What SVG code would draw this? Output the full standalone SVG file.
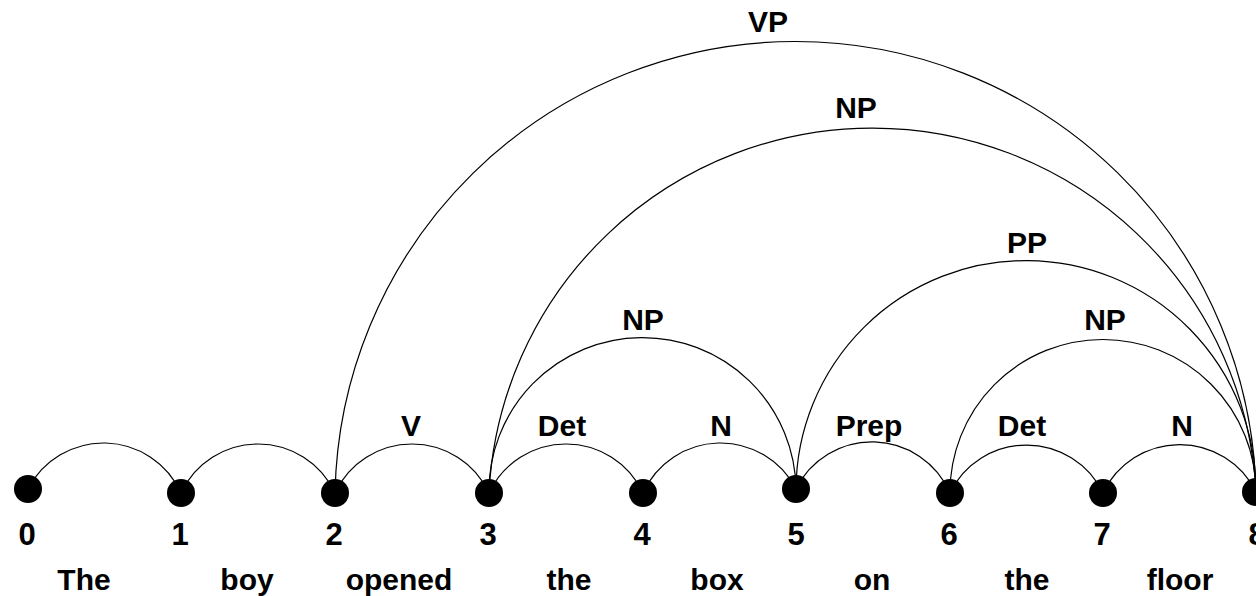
<svg xmlns="http://www.w3.org/2000/svg" width="1256" height="596" viewBox="0 0 1256 596">
  <style>
    .arc { fill: none; stroke: #000; stroke-width: 1.2; }
    .node { fill: #000; }
    text { font-family: "Liberation Sans", Arial, sans-serif; font-weight: bold; fill: #000; text-anchor: middle; }
    .lbl { font-size: 30px; }
    .num { font-size: 31px; }
    .word { font-size: 30px; }
  </style>
  <rect width="1256" height="596" fill="#fff"/>

  <!-- chart edges: arcs between vertices -->
  <g id="edges">
    <path class="arc" d="M28 489 A85 85 0 0 1 181 493"/>
    <path class="arc" d="M181 493 A85 85 0 0 1 335 493"/>
    <path class="arc" d="M335 493 A85 85 0 0 1 489 493"/>
    <path class="arc" d="M489 493 A85 85 0 0 1 643 493"/>
    <path class="arc" d="M643 493 A85 85 0 0 1 796 489"/>
    <path class="arc" d="M796 489 A85 85 0 0 1 950 493"/>
    <path class="arc" d="M950 493 A85 85 0 0 1 1103 493"/>
    <path class="arc" d="M1103 493 A85 85 0 0 1 1256 492"/>
    <path class="arc" d="M489 493 A153.5 153.5 0 0 1 796 489"/>
    <path class="arc" d="M950 493 A153 153 0 0 1 1256 492"/>
    <path class="arc" d="M796 489 A230 230 0 0 1 1256 492"/>
    <path class="arc" d="M489 493 A384 384 0 0 1 1256 492"/>
    <path class="arc" d="M335 493 A460.6 460.6 0 0 1 1256 492"/>
    <text class="lbl" x="411" y="436">V</text>
    <text class="lbl" x="562" y="436">Det</text>
    <text class="lbl" x="721" y="436">N</text>
    <text class="lbl" x="869" y="436">Prep</text>
    <text class="lbl" x="1022" y="436">Det</text>
    <text class="lbl" x="1182" y="436">N</text>
    <text class="lbl" x="643" y="330">NP</text>
    <text class="lbl" x="1105" y="330">NP</text>
    <text class="lbl" x="1027" y="253">PP</text>
    <text class="lbl" x="856" y="118">NP</text>
    <text class="lbl" x="768" y="32">VP</text>
  </g>

  <!-- vertices with their indices -->
  <g id="v0"><circle class="node" cx="28" cy="489" r="14"/><text class="num" x="27" y="545">0</text></g>
  <g id="v1"><circle class="node" cx="181" cy="493" r="14"/><text class="num" x="180" y="545">1</text></g>
  <g id="v2"><circle class="node" cx="335" cy="493" r="14"/><text class="num" x="334" y="545">2</text></g>
  <g id="v3"><circle class="node" cx="489" cy="493" r="14"/><text class="num" x="488" y="545">3</text></g>
  <g id="v4"><circle class="node" cx="643" cy="493" r="14"/><text class="num" x="642" y="545">4</text></g>
  <g id="v5"><circle class="node" cx="796" cy="489" r="14"/><text class="num" x="796" y="545">5</text></g>
  <g id="v6"><circle class="node" cx="950" cy="493" r="14"/><text class="num" x="949" y="545">6</text></g>
  <g id="v7"><circle class="node" cx="1103" cy="493" r="14"/><text class="num" x="1102" y="545">7</text></g>
  <g id="v8"><circle class="node" cx="1256" cy="492" r="14"/><text class="num" x="1257" y="545">8</text></g>

  <!-- sentence words -->
  <g id="words">
    <text class="word" x="84" y="590">The</text>
    <text class="word" x="247" y="590">boy</text>
    <text class="word" x="399" y="590">opened</text>
    <text class="word" x="569" y="590">the</text>
    <text class="word" x="717" y="590">box</text>
    <text class="word" x="872" y="590">on</text>
    <text class="word" x="1027" y="590">the</text>
    <text class="word" x="1180" y="590">floor</text>
  </g>
</svg>
